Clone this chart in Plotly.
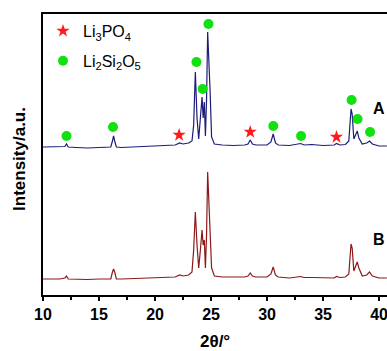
import plotly.graph_objects as go

# 2theta grid (degrees)
two_theta = [10.0, 11.5, 11.95, 12.1, 12.25, 13.0, 14.0, 15.0, 16.05, 16.2, 16.3, 16.4, 16.55,
             17.0, 18.0, 19.0, 20.0, 21.0, 21.8, 22.2, 22.5, 23.0, 23.3, 23.45, 23.6, 23.75,
             23.9, 24.05, 24.2, 24.3, 24.4, 24.5, 24.6, 24.7, 24.82, 24.92, 25.05, 25.3, 26.0,
             27.0, 28.0, 28.3, 28.5, 28.7, 29.0, 30.0, 30.35, 30.55, 30.75, 31.0, 32.0, 33.0,
             33.3, 34.0, 35.0, 36.0, 36.2, 36.5, 37.0, 37.3, 37.5, 37.6, 37.75, 37.9, 38.05,
             38.2, 38.5, 38.9, 39.15, 39.4, 40.0, 40.7]

# pattern A intensities (a.u.)
int_A = [16, 16, 16.5, 19, 16, 15.5, 15, 15.5, 16, 22, 27, 22, 16,
         15.5, 16, 16.5, 17, 17.5, 18, 20, 19, 20, 22, 38, 91, 45,
         24, 45, 66, 45, 61, 27, 63, 131, 85, 71, 26, 19, 18,
         17.5, 18, 19, 23, 19, 18, 18, 21, 29, 20, 18, 17.5, 19.5,
         18, 18.5, 17.5, 18, 19.5, 18, 18.5, 22, 54, 49, 24, 29, 32,
         25, 19, 20, 22, 19, 17, 17]

# pattern B intensities (a.u.)
int_B = [16, 16, 17, 19, 16, 15.5, 15.5, 16, 16, 23, 26, 23, 16,
         16, 16.5, 16.5, 17, 17.5, 18, 20, 19, 20, 23, 45, 83, 50,
         27, 45, 65, 50, 55, 27, 60, 123, 85, 73, 27, 19, 18,
         18, 18, 19, 22, 19, 18, 18, 21, 28, 20, 18, 17, 18.5,
         17.5, 17.5, 17, 17, 18.5, 17.5, 18, 21, 51, 47, 24, 29, 33,
         27, 19, 20, 23, 19, 17, 17]

A_OFFSET = 132

# phase identification markers (pattern A)
li2si2o5_pos = [12.1, 16.25, 23.7, 24.25, 24.77, 30.56, 33.04, 37.55, 38.08, 39.2]
li2si2o5_h = [27, 36, 101, 74, 139, 37, 27, 63, 44, 31]
li3po4_pos = [22.15, 28.5, 36.2]
li3po4_h = [28, 31, 26]

FONT = "Arial, Liberation Sans, sans-serif"

fig = go.Figure()
fig.add_trace(go.Scatter(x=two_theta, y=[v + A_OFFSET for v in int_A], mode="lines",
                         line=dict(color="#1c1c7a", width=1.2), showlegend=False))
fig.add_trace(go.Scatter(x=two_theta, y=int_B, mode="lines",
                         line=dict(color="#8c1818", width=1.2), showlegend=False))
fig.add_trace(go.Scatter(x=li3po4_pos, y=[v + A_OFFSET for v in li3po4_h], mode="markers",
                         marker=dict(symbol="star", size=10, color="#ff1a1a"),
                         name="Li<sub>3</sub>PO<sub>4</sub>", legendgroup="g1"))
fig.add_trace(go.Scatter(x=li2si2o5_pos, y=[v + A_OFFSET for v in li2si2o5_h], mode="markers",
                         marker=dict(symbol="circle", size=10, color="#11e011"),
                         name="Li<sub>2</sub>Si<sub>2</sub>O<sub>5</sub>", legendgroup="g2"))

fig.add_annotation(x=40.0, y=55 + A_OFFSET, text="<b>A</b>", showarrow=False,
                   xanchor="center", yanchor="middle",
                   font=dict(family=FONT, size=16, color="black"))
fig.add_annotation(x=40.0, y=56, text="<b>B</b>", showarrow=False,
                   xanchor="center", yanchor="middle",
                   font=dict(family=FONT, size=16, color="black"))
fig.add_annotation(x=-0.067, y=0.484, xref="paper", yref="paper", text="<b>Intensity/a.u.</b>",
                   textangle=-90, showarrow=False, xanchor="center", yanchor="middle",
                   font=dict(family=FONT, size=17, color="black"))
fig.add_annotation(x=0.5, y=-0.164, xref="paper", yref="paper", text="<b>2θ/°</b>",
                   showarrow=False, xanchor="center", yanchor="middle",
                   font=dict(family=FONT, size=17, color="black"))

fig.update_layout(
    width=387, height=351,
    margin=dict(l=43, r=0, t=14, b=56, autoexpand=False),
    paper_bgcolor="white", plot_bgcolor="white",
    font=dict(family=FONT, color="black"),
    legend=dict(x=0.0, y=1.0, xanchor="left", yanchor="top", bgcolor="rgba(0,0,0,0)",
                font=dict(family=FONT, size=16, color="black"), tracegroupgap=6),
)
fig.update_xaxes(range=[10, 40.71], showgrid=False, zeroline=False, showline=True,
                 linecolor="black", linewidth=1.8, mirror=True,
                 ticks="outside", ticklen=4, tickwidth=1.5, tickcolor="black",
                 tickvals=[10, 15, 20, 25, 30, 35, 40],
                 ticktext=["10", "15", "20", "25", "30", "35", "40"],
                 ticklabeloverflow="allow",
                 tickfont=dict(family=FONT, size=16, color="black", weight="bold"),
                 minor=dict(tickvals=[12.5, 17.5, 22.5, 27.5, 32.5, 37.5], ticks="outside",
                            ticklen=3, tickwidth=1.2, tickcolor="black"))
fig.update_yaxes(range=[0, 281], showgrid=False, zeroline=False, showline=True,
                 linecolor="black", linewidth=1.8, showticklabels=False, ticks="")

fig.write_html("out.html",
               config={"displayModeBar": False, "staticPlot": True},
               post_script="document.body.style.margin='0';document.body.style.overflow='hidden';")
